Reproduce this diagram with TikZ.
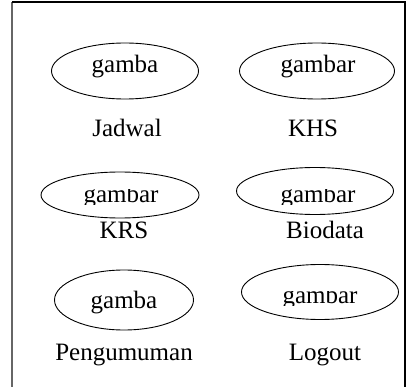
\documentclass[tikz,border=0pt]{standalone}
\usepackage{fontspec}
\setmainfont{Liberation Serif}
\usepackage{tikz}
\usetikzlibrary{shapes.geometric}

\begin{document}
\begin{tikzpicture}[x=1pt,y=-1pt,
    menu/.style={ellipse,draw,line width=0.9pt,inner sep=0pt},
    txt/.style={anchor=base,inner sep=0pt,font=\fontsize{25}{29}\selectfont}]
    \useasboundingbox (0,0) rectangle (406,387);
    % frame
    \draw[line width=1.5pt,black!60] (12,387) -- (12,2);
    \draw[line width=1.2pt] (12,2) -- (405,2) -- (405,387);
    % icons
    \node[menu,minimum width=147pt,minimum height=56pt] (a) at (125,71) {};
    \node[menu,minimum width=155pt,minimum height=56pt] (b) at (317,71) {};
    \node[menu,minimum width=158pt,minimum height=46pt] (c) at (120,195) {};
    \node[menu,minimum width=157pt,minimum height=47pt] (d) at (315,191) {};
    \node[menu,minimum width=139pt,minimum height=60pt] (e) at (124,300) {};
    \node[menu,minimum width=157pt,minimum height=55pt] (f) at (320,292) {};
    \node[txt] (ga) at (125,73) {gamba};
    \node[txt] (gb) at (318,73) {gambar};
    \begin{scope}
        \clip (60,190) rectangle (380,204);
        \node[txt] (gc) at (121,202) {gambar};
        \node[txt] (gd) at (318,202) {gambar};
    \end{scope}
    \node[txt] (ge) at (124,308) {gamba};
    \begin{scope}
        \clip (260,291) rectangle (380,305);
        \node[txt] (gf) at (320,303) {gambar};
    \end{scope}
    % labels
    \node[txt] (la) at (127,137) {Jadwal};
    \node[txt] (lb) at (313,137) {KHS};
    \node[txt] (lc) at (124,238) {KRS};
    \node[txt] (ld) at (325,238) {Biodata};
    \node[txt] (le) at (124,360) {Pengumuman};
    \node[txt] (lf) at (325,360) {Logout};
\end{tikzpicture}
\end{document}
